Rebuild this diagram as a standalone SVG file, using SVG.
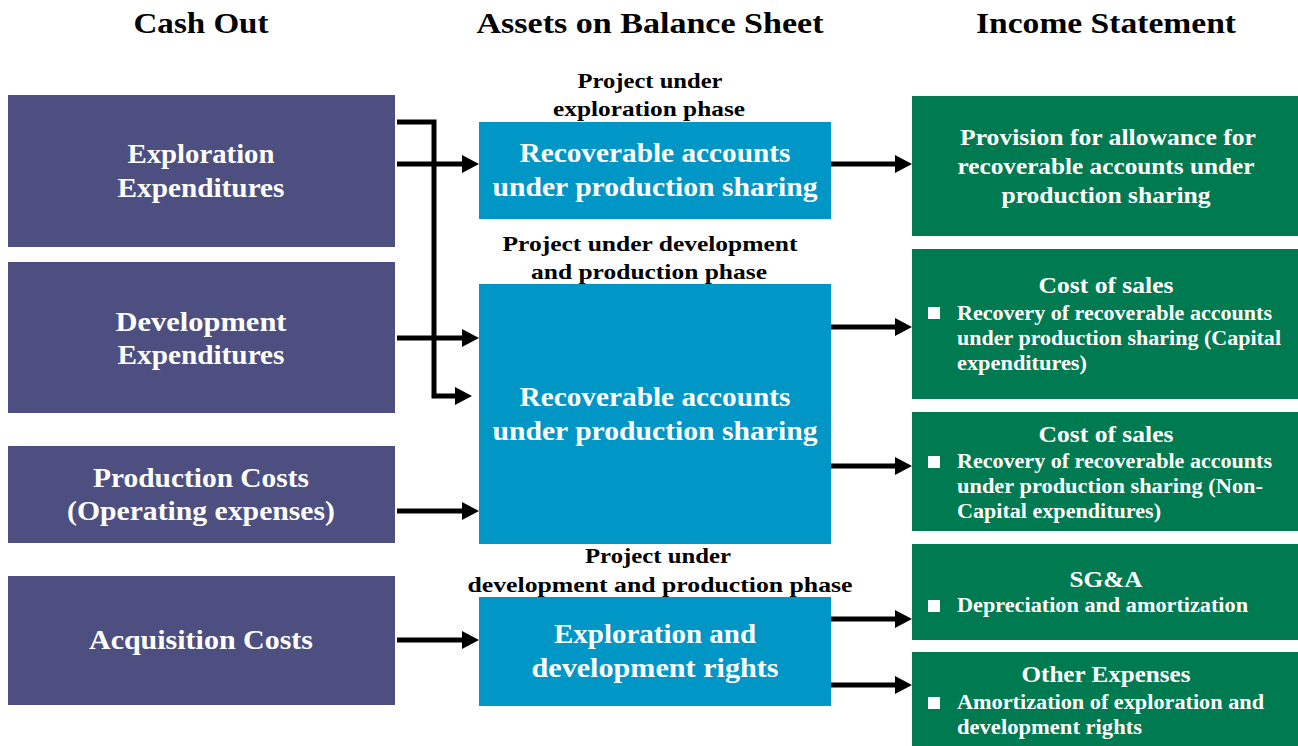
<svg xmlns="http://www.w3.org/2000/svg" width="1298" height="746" viewBox="0 0 1298 746">
<style>
text{font-family:"Liberation Serif","Times New Roman",serif;font-weight:bold;text-anchor:middle}
.h{font-size:30px;fill:#000}
.lbl{font-size:22px;fill:#000}
.p{fill:#4C4F7F}
.b{fill:#0097C7}
.g{fill:#007A50}
.pt{font-size:27px;fill:#fff}
.bt{font-size:27px;fill:#fff}
.gt{font-size:23px;fill:#fff}
.st{font-size:20px;fill:#fff;text-anchor:start}
.bul{fill:#fff}
.c{stroke:#000;stroke-width:5;fill:none}
</style>
<defs>
<marker id="ah" markerUnits="userSpaceOnUse" markerWidth="18" markerHeight="20" refX="0" refY="10" orient="auto">
<path d="M0,1 L17,10 L0,19 z" fill="#000"/>
</marker>
</defs>
<rect width="1298" height="746" fill="#fff"/>
<g id="headers">
<text class="h" x="201" y="33" textLength="135" lengthAdjust="spacingAndGlyphs">Cash Out</text>
<text class="h" x="650" y="33" textLength="347" lengthAdjust="spacingAndGlyphs">Assets on Balance Sheet</text>
<text class="h" x="1106" y="33" textLength="260" lengthAdjust="spacingAndGlyphs">Income Statement</text>
</g>
<g id="labels">
<text class="lbl" x="650" y="88" textLength="145" lengthAdjust="spacingAndGlyphs">Project under</text>
<text class="lbl" x="649" y="116" textLength="192" lengthAdjust="spacingAndGlyphs">exploration phase</text>
<text class="lbl" x="650" y="251" textLength="295" lengthAdjust="spacingAndGlyphs">Project under development</text>
<text class="lbl" x="649" y="279" textLength="236" lengthAdjust="spacingAndGlyphs">and production phase</text>
<text class="lbl" x="658" y="563" textLength="146" lengthAdjust="spacingAndGlyphs">Project under</text>
<text class="lbl" x="660" y="592" textLength="385" lengthAdjust="spacingAndGlyphs">development and production phase</text>
</g>
<g id="exploration-exp">
<rect class="p" x="8" y="95" width="387" height="152"/>
<text class="pt" x="201" y="163" textLength="147" lengthAdjust="spacingAndGlyphs">Exploration</text>
<text class="pt" x="201" y="197" textLength="167" lengthAdjust="spacingAndGlyphs">Expenditures</text>
</g>
<g id="development-exp">
<rect class="p" x="8" y="262" width="387" height="151"/>
<text class="pt" x="201" y="331" textLength="171" lengthAdjust="spacingAndGlyphs">Development</text>
<text class="pt" x="201" y="364" textLength="167" lengthAdjust="spacingAndGlyphs">Expenditures</text>
</g>
<g id="production-costs">
<rect class="p" x="8" y="446" width="387" height="97"/>
<text class="pt" x="201" y="487" textLength="216" lengthAdjust="spacingAndGlyphs">Production Costs</text>
<text class="pt" x="201" y="520" textLength="268" lengthAdjust="spacingAndGlyphs">(Operating expenses)</text>
</g>
<g id="acquisition-costs">
<rect class="p" x="8" y="576" width="387" height="129"/>
<text class="pt" x="201" y="649" textLength="224" lengthAdjust="spacingAndGlyphs">Acquisition Costs</text>
</g>
<g id="recoverable-1">
<rect class="b" x="479" y="122" width="352" height="97"/>
<text class="bt" x="655" y="162" textLength="271" lengthAdjust="spacingAndGlyphs">Recoverable accounts</text>
<text class="bt" x="655" y="196" textLength="325" lengthAdjust="spacingAndGlyphs">under production sharing</text>
</g>
<g id="recoverable-2">
<rect class="b" x="479" y="284" width="352" height="260"/>
<text class="bt" x="655" y="406" textLength="271" lengthAdjust="spacingAndGlyphs">Recoverable accounts</text>
<text class="bt" x="655" y="440" textLength="325" lengthAdjust="spacingAndGlyphs">under production sharing</text>
</g>
<g id="rights">
<rect class="b" x="479" y="597" width="352" height="109"/>
<text class="bt" x="655" y="643" textLength="202" lengthAdjust="spacingAndGlyphs">Exploration and</text>
<text class="bt" x="655" y="677" textLength="247" lengthAdjust="spacingAndGlyphs">development rights</text>
</g>
<g id="provision">
<rect class="g" x="912" y="96" width="386" height="140"/>
<text class="gt" x="1108" y="145" textLength="296" lengthAdjust="spacingAndGlyphs">Provision for allowance for</text>
<text class="gt" x="1106" y="174" textLength="297" lengthAdjust="spacingAndGlyphs">recoverable accounts under</text>
<text class="gt" x="1106" y="203" textLength="209" lengthAdjust="spacingAndGlyphs">production sharing</text>
</g>
<g id="cos-capital">
<rect class="g" x="912" y="249" width="386" height="150"/>
<text class="gt" x="1106" y="293" textLength="135" lengthAdjust="spacingAndGlyphs">Cost of sales</text>
<rect class="bul" x="928" y="307" width="12" height="12"/>
<text class="st" x="957" y="320" textLength="315" lengthAdjust="spacingAndGlyphs">Recovery of recoverable accounts</text>
<text class="st" x="957" y="345" textLength="324" lengthAdjust="spacingAndGlyphs">under production sharing (Capital</text>
<text class="st" x="957" y="370" textLength="130" lengthAdjust="spacingAndGlyphs">expenditures)</text>
</g>
<g id="cos-noncapital">
<rect class="g" x="912" y="412" width="386" height="119"/>
<text class="gt" x="1106" y="442" textLength="135" lengthAdjust="spacingAndGlyphs">Cost of sales</text>
<rect class="bul" x="928" y="456" width="12" height="12"/>
<text class="st" x="957" y="468" textLength="315" lengthAdjust="spacingAndGlyphs">Recovery of recoverable accounts</text>
<text class="st" x="957" y="493" textLength="306" lengthAdjust="spacingAndGlyphs">under production sharing (Non-</text>
<text class="st" x="957" y="518" textLength="204" lengthAdjust="spacingAndGlyphs">Capital expenditures)</text>
</g>
<g id="sga">
<rect class="g" x="912" y="544" width="386" height="96"/>
<text class="gt" x="1106" y="587" textLength="73" lengthAdjust="spacingAndGlyphs">SG&amp;A</text>
<rect class="bul" x="928" y="600" width="12" height="12"/>
<text class="st" x="957" y="612" textLength="291" lengthAdjust="spacingAndGlyphs">Depreciation and amortization</text>
</g>
<g id="other-expenses">
<rect class="g" x="912" y="652" width="386" height="94"/>
<text class="gt" x="1106" y="682" textLength="169" lengthAdjust="spacingAndGlyphs">Other Expenses</text>
<rect class="bul" x="928" y="697" width="12" height="12"/>
<text class="st" x="957" y="709" textLength="307" lengthAdjust="spacingAndGlyphs">Amortization of exploration and</text>
<text class="st" x="957" y="734" textLength="185" lengthAdjust="spacingAndGlyphs">development rights</text>
</g>
<g id="connectors">
<path class="c" d="M397,122 H434 V396 H455" marker-end="url(#ah)"/>
<path class="c" d="M397,164 H462" marker-end="url(#ah)"/>
<path class="c" d="M397,338 H462" marker-end="url(#ah)"/>
<path class="c" d="M397,511 H462" marker-end="url(#ah)"/>
<path class="c" d="M397,640 H462" marker-end="url(#ah)"/>
<path class="c" d="M831,164 H895" marker-end="url(#ah)"/>
<path class="c" d="M831,327 H895" marker-end="url(#ah)"/>
<path class="c" d="M831,466 H895" marker-end="url(#ah)"/>
<path class="c" d="M831,619 H895" marker-end="url(#ah)"/>
<path class="c" d="M831,685 H895" marker-end="url(#ah)"/>
</g>
</svg>
